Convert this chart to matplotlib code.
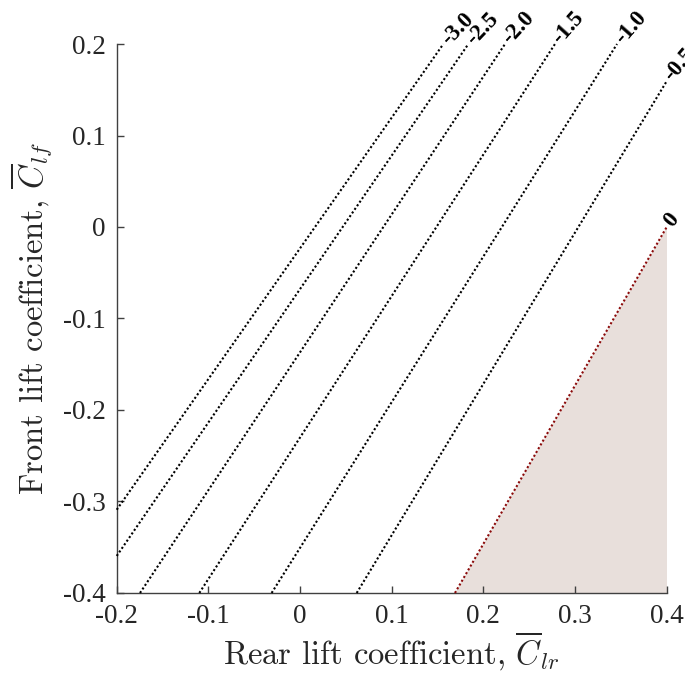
import matplotlib
matplotlib.use("Agg")
import matplotlib.pyplot as plt
import numpy as np

plt.rcParams["font.family"] = "Liberation Serif"
plt.rcParams["mathtext.fontset"] = "cm"
plt.rcParams["axes.unicode_minus"] = False

# contour levels and where each (straight) contour enters / leaves the plot
levels = [-3.0, -2.5, -2.0, -1.5, -1.0, -0.5, 0.0]
level_text = ["-3.0", "-2.5", "-2.0", "-1.5", "-1.0", "-0.5", "0"]
clr_start = [-0.2, -0.2, -0.1746, -0.1099, -0.031, 0.0618, 0.169]
clf_start = [-0.309, -0.3595, -0.4, -0.4, -0.4, -0.4, -0.4]
clr_end = [0.1563, 0.1836, 0.2236, 0.2781, 0.3458, 0.4, 0.4]
clf_end = [0.2, 0.2, 0.2, 0.2, 0.2, 0.1594, 0.0]

xticks = [-0.2, -0.1, 0, 0.1, 0.2, 0.3, 0.4]
xtick_labels = ["-0.2", "-0.1", "0", "0.1", "0.2", "0.3", "0.4"]
yticks = [-0.4, -0.3, -0.2, -0.1, 0, 0.1, 0.2]
ytick_labels = ["-0.4", "-0.3", "-0.2", "-0.1", "0", "0.1", "0.2"]

fig = plt.figure(figsize=(6.85, 6.77), dpi=100)
ax = fig.add_axes([0.1704, 0.1241, 0.8029, 0.8109])
ax.set_xlim(-0.2, 0.4)
ax.set_ylim(-0.4, 0.2)

# shaded region right of the zero contour
i0 = levels.index(0.0)
ax.fill([clr_start[i0], clr_end[i0], clr_end[i0]],
        [clf_start[i0], clf_start[i0], clf_end[i0]],
        color="#e8dfdb", lw=0, zorder=1)

for i in range(len(levels)):
    col = "#8b0a0a" if levels[i] == 0 else "black"
    ax.plot([clr_start[i], clr_end[i]], [clf_start[i], clf_end[i]],
            color=col, lw=1.5, linestyle=(0, (1, 1.1)), zorder=3, clip_on=False)

fig.canvas.draw()
for i in range(len(levels)):
    p0 = ax.transData.transform((clr_start[i], clf_start[i]))
    p1 = ax.transData.transform((clr_end[i], clf_end[i]))
    ang = np.degrees(np.arctan2(p1[1] - p0[1], p1[0] - p0[0]))
    rot = ang - 9
    ax.annotate(level_text[i], (clr_end[i], clf_end[i]),
                xytext=(2 * np.cos(np.radians(ang)), 2 * np.sin(np.radians(ang))),
                textcoords="offset points", rotation=rot, rotation_mode="anchor",
                ha="left", va="center", fontsize=16.5, fontweight="bold",
                color="black", annotation_clip=False)

for s in ["top", "right"]:
    ax.spines[s].set_visible(False)
for s in ["left", "bottom"]:
    ax.spines[s].set_color("#404040")
    ax.spines[s].set_linewidth(1.0)

ax.set_xticks(xticks)
ax.set_xticklabels(xtick_labels)
ax.set_yticks(yticks)
ax.set_yticklabels(ytick_labels)
ax.tick_params(direction="in", length=5, width=1, color="#404040",
               labelsize=19.5, labelcolor="#262626", pad=8)

ax.set_xlabel(r"Rear lift coefficient, $\overline{C}_{lr}$", fontsize=23.5,
              family="cmr10", color="#262626", labelpad=0)
ax.set_ylabel(r"Front lift coefficient, $\overline{C}_{lf}$", fontsize=23.5,
              family="cmr10", color="#262626", labelpad=6)

fig.savefig("out.png", dpi=100)
